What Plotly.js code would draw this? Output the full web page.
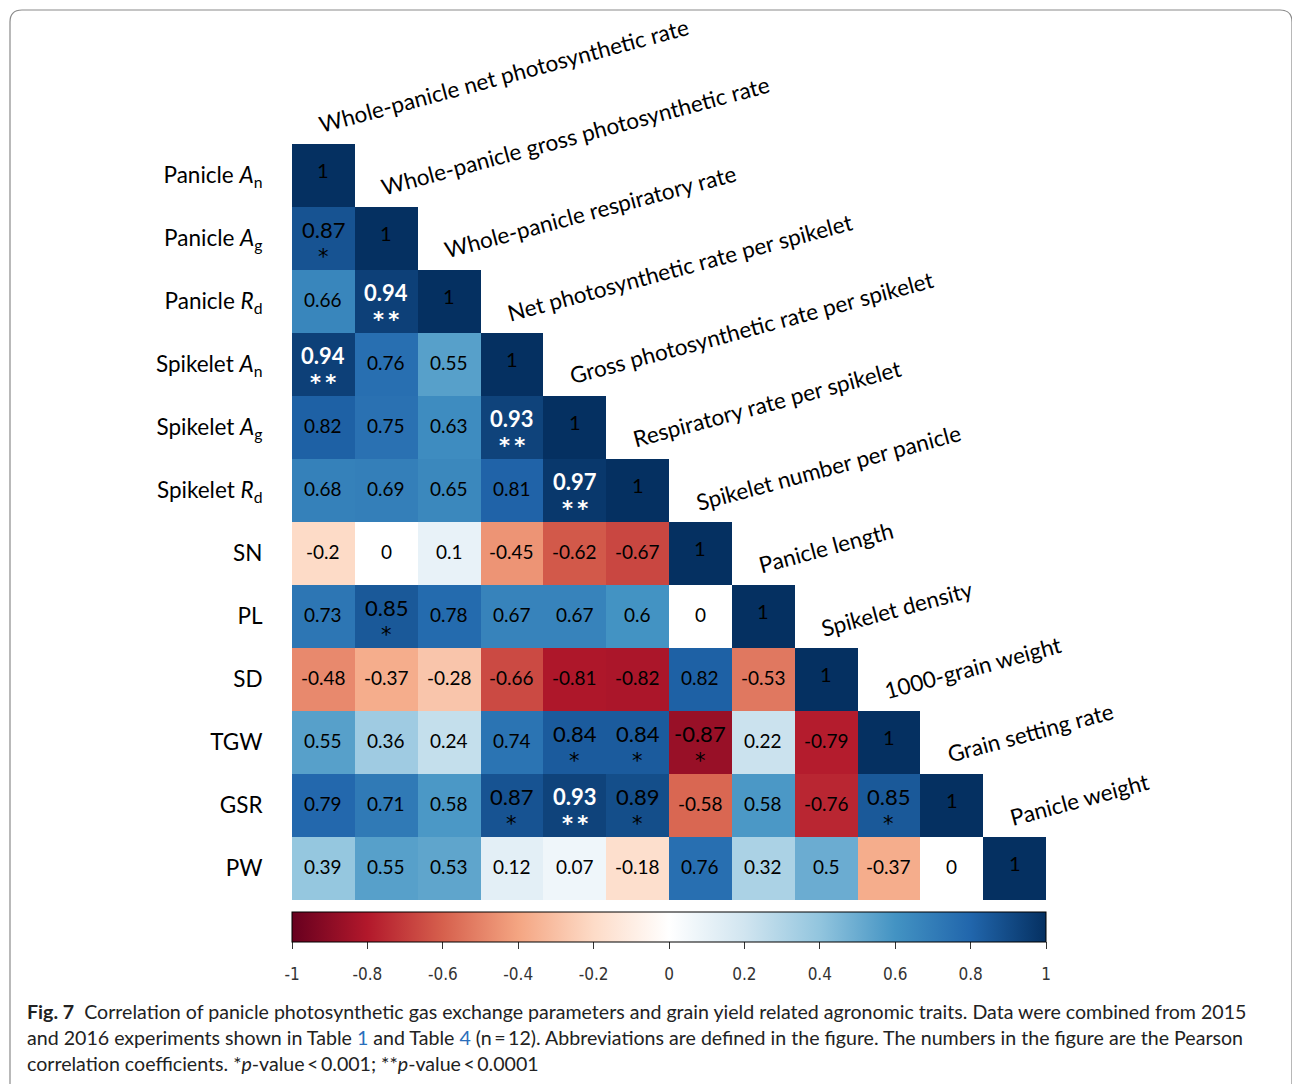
<!DOCTYPE html>
<html>
<head>
<meta charset="utf-8">
<script src="https://cdn.plot.ly/plotly-3.0.1.min.js"></script>
<style>
  html, body { margin: 0; padding: 0; background: #ffffff; }
  #chart { width: 1292px; height: 1084px; }
</style>
</head>
<body>
<div id="chart"></div>
<script>
// ---------- data ----------
const rowLabels = [
  'Panicle <i>A</i><sub>n</sub>', 'Panicle <i>A</i><sub>g</sub>', 'Panicle <i>R</i><sub>d</sub>',
  'Spikelet <i>A</i><sub>n</sub>', 'Spikelet <i>A</i><sub>g</sub>', 'Spikelet <i>R</i><sub>d</sub>',
  'SN', 'PL', 'SD', 'TGW', 'GSR', 'PW'
];
const colLabels = [
  'Whole-panicle net photosynthetic rate',
  'Whole-panicle gross photosynthetic rate',
  'Whole-panicle respiratory rate',
  'Net photosynthetic rate per spikelet',
  'Gross photosynthetic rate per spikelet',
  'Respiratory rate per spikelet',
  'Spikelet number per panicle',
  'Panicle length',
  'Spikelet density',
  '1000-grain weight',
  'Grain setting rate',
  'Panicle weight'
];
// lower triangle of Pearson correlation coefficients (row i has i+1 values)
const corr = [
  [1],
  [0.87, 1],
  [0.66, 0.94, 1],
  [0.94, 0.76, 0.55, 1],
  [0.82, 0.75, 0.63, 0.93, 1],
  [0.68, 0.69, 0.65, 0.81, 0.97, 1],
  [-0.2, 0, 0.1, -0.45, -0.62, -0.67, 1],
  [0.73, 0.85, 0.78, 0.67, 0.67, 0.6, 0, 1],
  [-0.48, -0.37, -0.28, -0.66, -0.81, -0.82, 0.82, -0.53, 1],
  [0.55, 0.36, 0.24, 0.74, 0.84, 0.84, -0.87, 0.22, -0.79, 1],
  [0.79, 0.71, 0.58, 0.87, 0.93, 0.89, -0.58, 0.58, -0.76, 0.85, 1],
  [0.39, 0.55, 0.53, 0.12, 0.07, -0.18, 0.76, 0.32, 0.5, -0.37, 0, 1]
];
// significance marks
const sig = [
  [''],
  ['*', ''],
  ['', '**', ''],
  ['**', '', '', ''],
  ['', '', '', '**', ''],
  ['', '', '', '', '**', ''],
  ['', '', '', '', '', '', ''],
  ['', '*', '', '', '', '', '', ''],
  ['', '', '', '', '', '', '', '', ''],
  ['', '', '', '', '*', '*', '*', '', '', ''],
  ['', '', '', '*', '**', '*', '', '', '', '*', ''],
  ['', '', '', '', '', '', '', '', '', '', '', '']
];
const cbTickVals = [-1, -0.8, -0.6, -0.4, -0.2, 0, 0.2, 0.4, 0.6, 0.8, 1];
const cbTickText = ['-1', '-0.8', '-0.6', '-0.4', '-0.2', '0', '0.2', '0.4', '0.6', '0.8', '1'];

// ---------- build ----------
const n = rowLabels.length;
const idx = rowLabels.map((_, i) => i);
const z = idx.map(i => idx.map(j => (j <= i ? corr[i][j] : null)));

const colorscale = [
  [0.0, '#67001F'], [0.1, '#B2182B'], [0.2, '#D6604D'], [0.3, '#F4A582'],
  [0.4, '#FDDBC7'], [0.5, '#FFFFFF'], [0.6, '#D1E5F0'], [0.7, '#92C5DE'],
  [0.8, '#4393C3'], [0.9, '#2166AC'], [1.0, '#053061']
];

const FONT = 'Lato, "Open Sans", sans-serif';
const STAR_FONT = '"DejaVu Sans", sans-serif';
const annotations = [];

idx.forEach(i => {
  corr[i].forEach((v, j) => {
    const s = sig[i][j];
    const strong = s === '**';
    const txt = String(v);
    const color = strong ? '#ffffff' : '#000000';
    const size = s ? 22 : (i === j ? 20 : 19);
    annotations.push({
      x: j, y: i, xref: 'x', yref: 'y', showarrow: false,
      text: strong ? '<b>' + txt + '</b>' : txt,
      font: { family: FONT, size: size, color: color },
      xanchor: 'center', yanchor: 'middle',
      yshift: s ? 9 : (i === j ? 6 : 2)
    });
    if (s) {
      annotations.push({
        x: j, y: i, xref: 'x', yref: 'y', showarrow: false,
        text: strong ? '<b>' + s.split('').join('\u2009') + '</b>' : s,
        font: { family: STAR_FONT, size: 21, color: color },
        xanchor: 'center', yanchor: 'middle',
        yshift: -18
      });
    }
  });
});

// column (diagonal) labels
colLabels.forEach((lab, j) => {
  annotations.push({
    x: j - 0.16, y: j - 0.5, xref: 'x', yref: 'y', showarrow: false,
    text: lab, textangle: -15,
    font: { family: FONT, size: 22.5, color: '#000000' },
    xanchor: 'left', yanchor: 'bottom', yshift: 4
  });
});

// pixel geometry of plot area
const W = 754, L = 292, T = 144, B = 84;
const PH = 1084 - T - B;            // plot area height (heatmap + colorbar zone)
const HM = 756;                      // heatmap height
const px = v => (v - L) / W;
const py = v => (T + PH - v) / PH;

// caption
const capFont = { family: 'Lato, "Noto Sans", sans-serif', size: 19.6, color: '#222222' };
const capLines = [
  '<b>Fig. 7</b>  Correlation of panicle photosynthetic gas exchange parameters and grain yield related agronomic traits. Data were combined from 2015',
  'and 2016 experiments shown in Table <span style="color:#2a6ebb">1</span> and Table <span style="color:#2a6ebb">4</span> (n\u2009=\u200912). Abbreviations are defined in the figure. The numbers in the figure are the Pearson',
  'correlation coefficients. *<i>p</i>-value\u2009<\u20090.001; **<i>p</i>-value\u2009<\u20090.0001'
];
[1011, 1037, 1063].forEach((yy, k) => {
  annotations.push({
    x: px(25), y: py(yy), xref: 'paper', yref: 'paper', showarrow: false,
    text: capLines[k], font: capFont, xanchor: 'left', yanchor: 'middle', align: 'left'
  });
});

const r = 12;
const x0 = px(10), x1 = px(1292), y0 = py(10), y1 = py(1095);
const rx = r / W, ry = r / PH;
const borderPath = `M ${x0 + rx},${y0} L ${x1 - rx},${y0} Q ${x1},${y0} ${x1},${y0 - ry} ` +
  `L ${x1},${y1 + ry} Q ${x1},${y1} ${x1 - rx},${y1} L ${x0 + rx},${y1} Q ${x0},${y1} ${x0},${y1 + ry} ` +
  `L ${x0},${y0 - ry} Q ${x0},${y0} ${x0 + rx},${y0} Z`;

const trace = {
  type: 'heatmap',
  x: idx, y: idx, z: z,
  zmin: -1, zmax: 1,
  colorscale: colorscale,
  hoverongaps: false,
  colorbar: {
    orientation: 'h',
    lenmode: 'pixels', len: W,
    x: 0.5, xanchor: 'center',
    y: py(912), yanchor: 'top',
    thickness: 30, thicknessmode: 'pixels',
    xpad: 0, ypad: 0,
    outlinewidth: 1, outlinecolor: '#000000',
    tickmode: 'array', tickvals: cbTickVals,
    ticks: 'outside', ticklen: 7, tickcolor: '#333333', tickwidth: 1,
    showticklabels: false
  }
};

// empty helper trace so that the colour-scale label axis (xaxis2) is drawn
const scaleAxisTrace = {
  type: 'scatter', mode: 'markers', x: [], y: [],
  xaxis: 'x2', yaxis: 'y', hoverinfo: 'skip', showlegend: false
};

const layout = {
  width: 1292, height: 1084,
  margin: { l: L, r: 1292 - L - W, t: T, b: B, pad: 0 },
  paper_bgcolor: '#ffffff', plot_bgcolor: 'rgba(0,0,0,0)',
  showlegend: false,
  xaxis: {
    range: [-0.5, n - 0.5], showgrid: false, zeroline: false, showline: false,
    showticklabels: false, ticks: ''
  },
  yaxis: {
    domain: [(T + PH - (T + HM)) / PH, 1],
    range: [n - 0.5, -0.5], showgrid: false, zeroline: false, showline: false,
    tickmode: 'array', tickvals: idx, ticktext: rowLabels,
    ticks: 'outside', ticklen: 24, tickcolor: 'rgba(0,0,0,0)',
    tickfont: { family: FONT, size: 22.5, color: '#000000' }
  },
  // axis carrying the colour-bar tick labels
  xaxis2: {
    anchor: 'free', position: py(962), overlaying: 'x',
    range: [-1, 1], showgrid: false, zeroline: false, showline: false,
    tickmode: 'array', tickvals: cbTickVals, ticktext: cbTickText, ticks: '',
    tickfont: { family: '"Liberation Sans Narrow", "DejaVu Sans Condensed", sans-serif', size: 17, color: '#333333' }
  },
  annotations: annotations,
  shapes: [{
    type: 'path', xref: 'paper', yref: 'paper', path: borderPath,
    line: { color: '#8a8a8a', width: 1.2 }, fillcolor: 'rgba(0,0,0,0)', layer: 'below'
  }]
};

Plotly.newPlot('chart', [trace, scaleAxisTrace], layout, { displayModeBar: false, staticPlot: true });
</script>
</body>
</html>
